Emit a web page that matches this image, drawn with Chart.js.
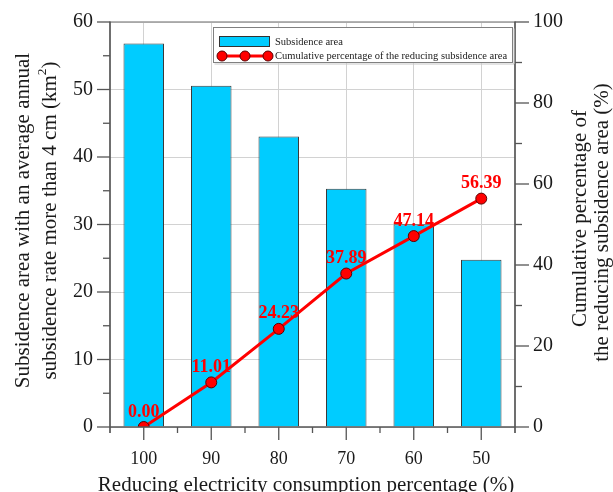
<!DOCTYPE html>
<html>
<head>
<meta charset="utf-8">
<script src="https://cdn.jsdelivr.net/npm/chart.js@4.4.1/dist/chart.umd.min.js"></script>
<style>
html,body{margin:0;padding:0;background:#fff;}
#wrap{width:613px;height:492px;position:relative;}
</style>
</head>
<body>
<div id="wrap"><canvas id="c" width="613" height="492"></canvas></div>
<script>
// ---- data ----
const categories = ['100', '90', '80', '70', '60', '50'];
const subsidenceArea = [56.8, 50.55, 43.04, 35.28, 30.02, 24.77];
const cumulativePct = [0.00, 11.01, 24.23, 37.89, 47.14, 56.39];
const leftTicks = [0, 10, 20, 30, 40, 50, 60];
const rightTicks = [0, 20, 40, 60, 80, 100];
const barLabel = 'Subsidence area';
const lineLabel = 'Cumulative percentage of the reducing subsidence area';
const xTitle = 'Reducing electricity consumption percentage (%)';
const leftTitle1 = 'Subsidence area with an average annual';
const leftTitle2a = 'subsidence rate more than 4 cm (km';
const leftTitle2sup = '2';
const leftTitle2b = ')';
const rightTitle1 = 'Cumulative percentage of';
const rightTitle2 = 'the reducing subsidence area (%)';

const SERIF = "'Liberation Serif', 'DejaVu Serif', serif";
Chart.defaults.font.family = SERIF;
Chart.defaults.color = '#1a1a1a';

const CYAN = '#00CCFF';
const RED = '#FF0000';
const TITLE_FONT = '21px ' + SERIF;

function ln(ctx, x1, y1, x2, y2) { ctx.beginPath(); ctx.moveTo(x1, y1); ctx.lineTo(x2, y2); ctx.stroke(); }

const decorPlugin = {
  id: 'decor',
  afterDatasetsDraw(chart) {
    const ctx = chart.ctx;
    const meta = chart.getDatasetMeta(1);
    ctx.save();
    ctx.font = 'bold 18px ' + SERIF;
    ctx.fillStyle = RED;
    ctx.textAlign = 'center';
    ctx.textBaseline = 'alphabetic';
    meta.data.forEach((pt, i) => {
      ctx.fillText(cumulativePct[i].toFixed(2), pt.x, pt.y - 10.5);
    });
    ctx.restore();
  },
  afterDraw(chart) {
    const {ctx, chartArea: a, scales} = chart;
    const x = scales.x, y = scales.y, y1 = scales.y1;
    ctx.save();
    ctx.lineCap = 'butt';
    // top border
    ctx.strokeStyle = '#9a9a9a'; ctx.lineWidth = 1.5;
    ln(ctx, a.left, a.top, a.right, a.top);
    // axes
    ctx.strokeStyle = '#555'; ctx.lineWidth = 1.7;
    ln(ctx, a.left, a.top - 0.5, a.left, a.bottom + 6);
    ln(ctx, a.right, a.top - 0.5, a.right, a.bottom + 6);
    ln(ctx, a.left, a.bottom, a.right, a.bottom);
    ctx.lineWidth = 1.3;
    // left ticks (major + minor)
    leftTicks.forEach((v, i) => {
      const py = y.getPixelForValue(v);
      ln(ctx, a.left - 13, py, a.left, py);
      if (i < leftTicks.length - 1) {
        const pm = y.getPixelForValue((v + leftTicks[i + 1]) / 2);
        ln(ctx, a.left - 7, pm, a.left, pm);
      }
    });
    // right ticks
    rightTicks.forEach((v, i) => {
      const py = y1.getPixelForValue(v);
      ln(ctx, a.right, py, a.right + 14, py);
      if (i < rightTicks.length - 1) {
        const pm = y1.getPixelForValue((v + rightTicks[i + 1]) / 2);
        ln(ctx, a.right, pm, a.right + 7, pm);
      }
    });
    // x ticks
    categories.forEach((c, i) => {
      const px = x.getPixelForTick(i);
      ln(ctx, px, a.bottom, px, a.bottom + 13);
      if (i > 0) {
        const pb = (x.getPixelForTick(i - 1) + px) / 2;
        ln(ctx, pb, a.bottom, pb, a.bottom + 6);
      }
    });

    // axis titles
    ctx.fillStyle = '#1a1a1a';
    ctx.font = TITLE_FONT;
    ctx.textAlign = 'center';
    ctx.textBaseline = 'alphabetic';
    ctx.fillText(xTitle, 306, 491);
    const cy = (a.top + a.bottom) / 2 - 4;
    ctx.save();
    ctx.rotate(-Math.PI / 2);
    ctx.textBaseline = 'middle';
    ctx.textAlign = 'center';
    ctx.fillText(leftTitle1, -cy, 23);
    const wA = ctx.measureText(leftTitle2a).width;
    const wB = ctx.measureText(leftTitle2b).width;
    ctx.font = '13.5px ' + SERIF;
    const wS = ctx.measureText(leftTitle2sup).width;
    const total = wA + wS + wB;
    const sx = -cy - total / 2;
    ctx.textAlign = 'left';
    ctx.font = TITLE_FONT;
    ctx.fillText(leftTitle2a, sx, 50);
    ctx.font = '13.5px ' + SERIF;
    ctx.fillText(leftTitle2sup, sx + wA, 42);
    ctx.font = TITLE_FONT;
    ctx.fillText(leftTitle2b, sx + wA + wS, 50);
    ctx.textAlign = 'center';
    ctx.fillText(rightTitle1, -(cy - 2), 580);
    ctx.fillText(rightTitle2, -(cy + 2), 602);
    ctx.restore();

    // legend
    const lx = 213.5, ly = 27.5, lw = 299, lh = 35;
    ctx.fillStyle = '#fff';
    ctx.fillRect(lx, ly, lw, lh);
    ctx.strokeStyle = '#c8c8c8'; ctx.lineWidth = 1;
    ln(ctx, lx + lw + 1.5, ly + 1, lx + lw + 1.5, ly + lh + 1.5);
    ln(ctx, lx + 1, ly + lh + 1.5, lx + lw + 1.5, ly + lh + 1.5);
    ctx.strokeStyle = '#808080'; ctx.lineWidth = 1;
    ctx.strokeRect(lx, ly, lw, lh);
    ctx.fillStyle = CYAN;
    ctx.fillRect(219.5, 36.5, 50, 10);
    ctx.strokeStyle = '#333'; ctx.lineWidth = 1;
    ctx.strokeRect(219.5, 36.5, 50, 10);
    ctx.fillStyle = '#1a1a1a';
    ctx.font = '10.5px ' + SERIF;
    ctx.textAlign = 'left';
    ctx.textBaseline = 'middle';
    ctx.fillText(barLabel, 275, 42);
    ctx.strokeStyle = RED; ctx.lineWidth = 3;
    ln(ctx, 222, 56, 268, 56);
    [222, 245, 268].forEach(cx => {
      ctx.beginPath(); ctx.arc(cx, 56, 5, 0, Math.PI * 2);
      ctx.fillStyle = RED; ctx.fill();
      ctx.strokeStyle = '#5a0000'; ctx.lineWidth = 1; ctx.stroke();
    });
    ctx.fillStyle = '#1a1a1a';
    ctx.fillText(lineLabel, 275, 56);
    ctx.restore();
  }
};

function noPad(s) { s.paddingTop = 0; s.paddingBottom = 0; }

new Chart(document.getElementById('c'), {
  type: 'bar',
  data: {
    labels: categories,
    datasets: [
      {
        type: 'bar',
        label: barLabel,
        data: subsidenceArea,
        yAxisID: 'y',
        backgroundColor: CYAN,
        borderColor: '#3a3a3a',
        borderWidth: 1,
        barPercentage: 0.6,
        categoryPercentage: 1.0,
        order: 2
      },
      {
        type: 'line',
        label: lineLabel,
        data: cumulativePct,
        yAxisID: 'y1',
        borderColor: RED,
        borderWidth: 3,
        pointRadius: 5.5,
        pointBackgroundColor: RED,
        pointBorderColor: '#5a0000',
        pointBorderWidth: 1,
        tension: 0,
        order: 1
      }
    ]
  },
  options: {
    responsive: false,
    devicePixelRatio: 1,
    animation: false,
    layout: { padding: { top: 22, left: 0, right: 0, bottom: 0 } },
    plugins: { legend: { display: false }, tooltip: { enabled: false } },
    scales: {
      x: {
        grid: { color: '#d2d2d2', lineWidth: 1, offset: false, drawTicks: false },
        border: { display: false },
        ticks: { font: { size: 18 }, color: '#1a1a1a', padding: 21, maxRotation: 0 },
        afterFit: s => { s.height = 65; s.paddingLeft = 0; s.paddingRight = 0; }
      },
      y: {
        position: 'left',
        min: 0, max: 60,
        afterBuildTicks: s => { s.ticks = leftTicks.map(v => ({ value: v })); },
        grid: { color: '#d2d2d2', lineWidth: 1, drawTicks: false },
        border: { display: false },
        ticks: { font: { size: 20 }, color: '#1a1a1a', padding: 17 },
        afterFit: s => { s.width = 110; noPad(s); }
      },
      y1: {
        position: 'right',
        min: 0, max: 100,
        afterBuildTicks: s => { s.ticks = rightTicks.map(v => ({ value: v })); },
        grid: { display: false, drawOnChartArea: false, drawTicks: false },
        border: { display: false },
        ticks: { font: { size: 20 }, color: '#1a1a1a', padding: 18 },
        afterFit: s => { s.width = 98; noPad(s); }
      }
    }
  },
  plugins: [decorPlugin]
});
</script>
</body>
</html>
